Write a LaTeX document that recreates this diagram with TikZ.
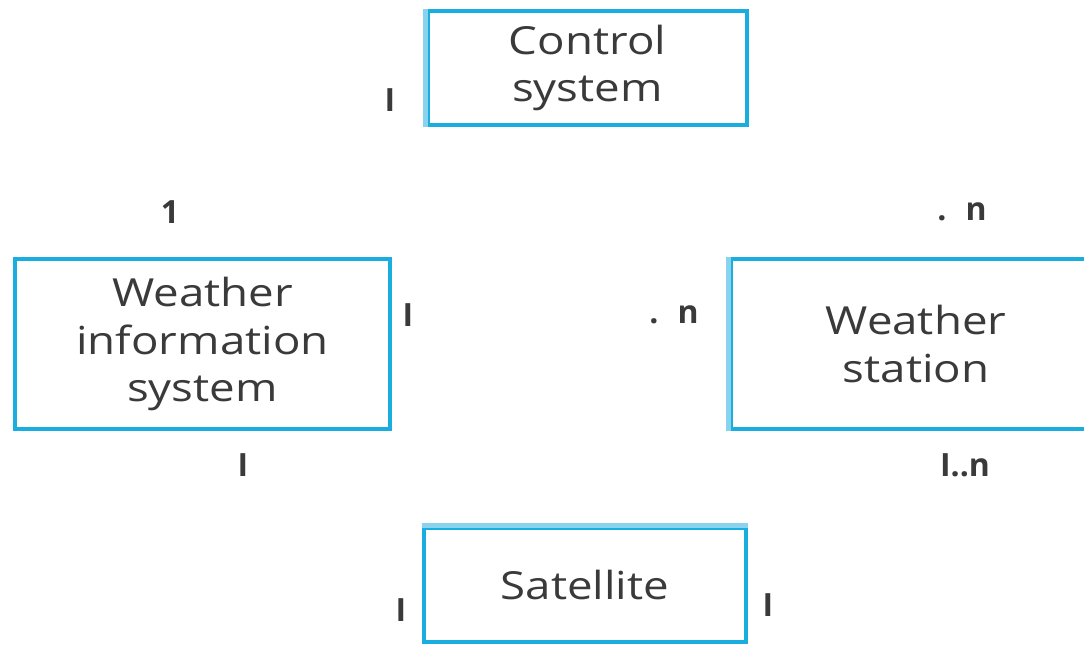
\documentclass[tikz,border=0pt]{standalone}
\usepackage{fontspec}
\setmainfont{Open Sans}
\newfontfamily\boxfont[FakeStretch=1.18]{Open Sans}
\definecolor{boxblue}{HTML}{1AADE0}
\definecolor{lightblue}{HTML}{8AD3EF}
\definecolor{txt}{HTML}{3A3A3A}
\begin{document}
\begin{tikzpicture}[x=0.75pt,y=-0.75pt,
  classbox/.style={draw=boxblue,line width=3.6pt,fill=white,inner sep=0pt,
    align=center,text=txt,font=\boxfont\fontsize{29}{35.5}\selectfont},
  mult/.style={text=txt,font=\fontsize{24}{28}\selectfont\bfseries,inner sep=0pt}]
\useasboundingbox (0,0) rectangle (1084,645);
\node[classbox,minimum width=319*0.75pt,minimum height=114*0.75pt] (ctrl) at (587.5,68) {Control\\system};
\node[classbox,minimum width=375*0.75pt,minimum height=170*0.75pt] (wis) at (202.5,344) {Weather\\information\\system};
\node[classbox,minimum width=370*0.75pt,minimum height=170*0.75pt] (ws) at (916,344) {Weather\\station};
\node[classbox,minimum width=322*0.75pt,minimum height=114*0.75pt] (sat) at (585,585) {Satellite};
\draw[lightblue,line width=3.6pt] (ctrl.south west) -- (ctrl.north west);
\draw[lightblue,line width=3.6pt] (ws.south west) -- (ws.north west);
\draw[lightblue,line width=3.6pt] (sat.north west) -- (sat.north east);
\node[mult] (m1) at (390,100) {I};
\node[mult] (m2) at (170,212) {1};
\node[mult] (m3) at (408,315) {I};
\node[mult] (m4) at (243,465) {I};
\node[mult] (m5) at (962,212) {.\hspace{0.6em}n};
\node[mult] (m6) at (674,315) {.\hspace{0.6em}n};
\node[mult] (m7) at (965,465) {I..n};
\node[mult] (m8) at (401,610) {I};
\node[mult] (m9) at (768,605) {I};
\end{tikzpicture}
\end{document}
